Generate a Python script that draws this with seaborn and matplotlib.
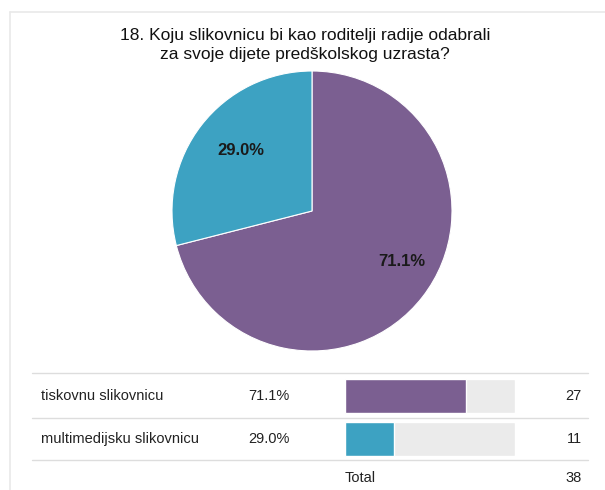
import matplotlib
matplotlib.use("Agg")
import matplotlib.pyplot as plt
import seaborn as sns
import pandas as pd

# data
TITLE = "18. Koju slikovnicu bi kao roditelji radije odabrali\nza svoje dijete predškolskog uzrasta?"
categories = ["tiskovnu slikovnicu", "multimedijsku slikovnicu"]
counts = [27, 11]
percents = [71.1, 29.0]
colors = ["#7B5F91", "#3DA2C2"]

total = sum(counts)

sns.set_style("white")
plt.rcParams["font.family"] = ["Liberation Sans", "DejaVu Sans"]

W, H = 605, 490
fig = plt.figure(figsize=(W / 100, H / 100), dpi=100)


def px_axes(x0, y0, x1, y1):
    # pixel box (top-left origin) -> figure axes
    return fig.add_axes([x0 / W, 1 - y1 / H, (x1 - x0) / W, (y1 - y0) / H])


# background axis for text and rules
bg = fig.add_axes([0, 0, 1, 1])
bg.set_xlim(0, W)
bg.set_ylim(H, 0)
bg.axis("off")

# faint frame
bg.plot([10, W], [12, 12], color="#E9E9E9", lw=1.2)
bg.plot([10, 10], [12, H], color="#E9E9E9", lw=1.2)

bg.text(305, 45, TITLE, ha="center", va="center", fontsize=12.5,
        color="#111111", linespacing=1.35)

# pie
ax_pie = px_axes(172, 71, 452, 351)
ax_pie.pie(percents, colors=colors, startangle=90, counterclock=False,
           wedgeprops=dict(edgecolor="white", linewidth=0.8))
ax_pie.set_aspect("equal")
ax_pie.set_xlim(-1, 1)
ax_pie.set_ylim(-1, 1)
ax_pie.text(0.64, -0.36, f"{percents[0]:.1f}%", ha="center", va="center",
            fontsize=12, fontweight="bold", color="#1a1a1a")
ax_pie.text(-0.51, 0.43, f"{percents[1]:.1f}%", ha="center", va="center",
            fontsize=12, fontweight="bold", color="#1a1a1a")

# table rules
for y in [373, 418, 460]:
    bg.plot([32, 588], [y, y], color="#DDDDDD", lw=1)

row_y = [396, 439]
fs = 10.5
for cat, pct, n, y in zip(categories, percents, counts, row_y):
    bg.text(41, y, cat, ha="left", va="center", fontsize=fs, color="#222222")
    bg.text(248, y, f"{pct:.1f}%", ha="left", va="center", fontsize=fs, color="#222222")
    bg.text(582, y, str(n), ha="right", va="center", fontsize=fs, color="#222222")
bg.text(345, 478, "Total", ha="left", va="center", fontsize=fs, color="#222222")
bg.text(582, 478, str(total), ha="right", va="center", fontsize=fs, color="#222222")

# bars
df = pd.DataFrame({"cat": categories, "share": [c / total for c in counts]})
ax_bar = px_axes(345, 374.5, 515, 460.5)
sns.barplot(data=df, x=[1.0] * len(categories), y="cat", color="#EBEBEB",
            width=0.78, ax=ax_bar, orient="h", saturation=1)
sns.barplot(data=df, x="share", y="cat", hue="cat", palette=colors,
            width=0.78, ax=ax_bar, orient="h", legend=False, saturation=1)
ax_bar.set_xlim(0, 1)
ax_bar.set_ylim(1.5, -0.5)
ax_bar.axis("off")

fig.savefig("out.png", dpi=100)
